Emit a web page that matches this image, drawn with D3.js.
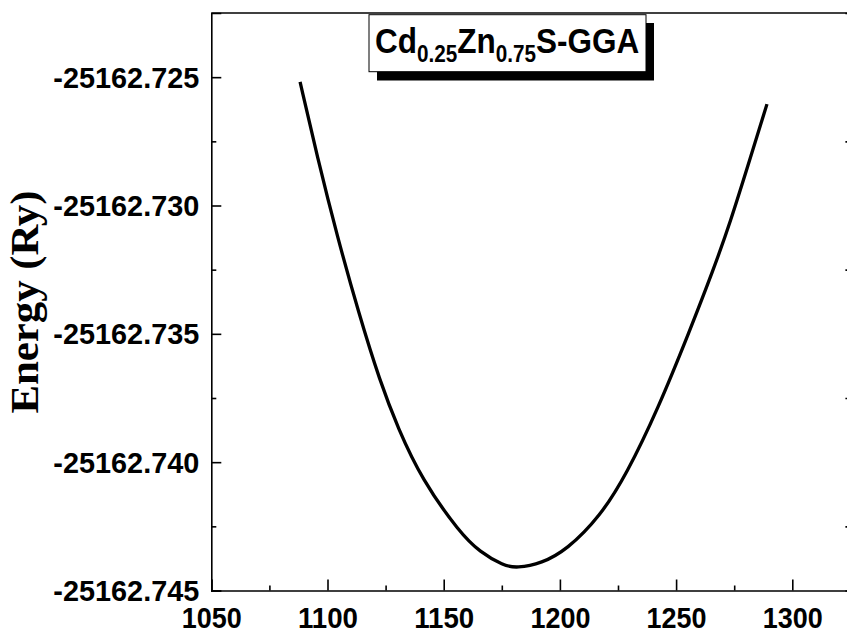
<!DOCTYPE html>
<html>
<head>
<meta charset="utf-8">
<script src="https://cdn.jsdelivr.net/npm/d3@7"></script>
<style>
  body { margin: 0; background: #fff; }
  svg { display: block; }
</style>
</head>
<body>
<div id="chart"></div>
<script>
// volume points
const volume = [1088.2, 1095.9, 1104.1, 1113.6, 1122.6, 1130.3, 1140.5, 1157.0, 1165.6,
  1175.7, 1181.4, 1192.2, 1202.9, 1217.3, 1228.7, 1242.0, 1256.0, 1266.0, 1273.2, 1281.8, 1289.1];
const energy = [-25162.72518, -25162.72822, -25162.73117, -25162.73425, -25162.73686,
  -25162.73867, -25162.74066, -25162.74276, -25162.74350, -25162.74403, -25162.74413,
  -25162.74394, -25162.74342, -25162.74212, -25162.74046, -25162.73797, -25162.73485,
  -25162.73251, -25162.73069, -25162.72819, -25162.72605];

const xTicks = [1050, 1100, 1150, 1200, 1250, 1300];
const xMinor = [1075, 1125, 1175, 1225, 1275];
const yTicks = [-25162.745, -25162.740, -25162.735, -25162.730, -25162.725];
const yMinor = [-25162.7425, -25162.7375, -25162.7325, -25162.7275];

const width = 847, height = 633;
const sans = '"Liberation Sans", Arial, sans-serif';
const serif = '"Liberation Serif", "Times New Roman", serif';

const svg = d3.select('#chart').append('svg')
  .attr('width', width)
  .attr('height', height);

const x = d3.scaleLinear().domain([1050, 1325]).range([211.3, 850.4]);
const y = d3.scaleLinear().domain([-25162.745, -25162.7225]).range([590.5, 13]);

// top frame line
svg.append('line')
  .attr('x1', x(1050)).attr('x2', x(1325))
  .attr('y1', y(-25162.7225)).attr('y2', y(-25162.7225))
  .attr('stroke', '#000').attr('stroke-width', 1.6);

// left axis
const left = svg.append('g').attr('transform', `translate(${x(1050)},0)`);
left.call(d3.axisLeft(y).tickValues(yTicks).tickSize(-10).tickPadding(12)
  .tickFormat(d => d.toFixed(3)));
left.append('g').call(d3.axisLeft(y).tickValues(yMinor).tickSize(-5).tickFormat(''))
  .select('.domain').remove();

// bottom axis
const bottom = svg.append('g').attr('transform', `translate(0,${y(-25162.745)})`);
bottom.call(d3.axisBottom(x).tickValues(xTicks).tickSize(-11).tickPadding(16)
  .tickFormat(d => String(d)));
bottom.append('g').call(d3.axisBottom(x).tickValues(xMinor).tickSize(-5).tickFormat(''))
  .select('.domain').remove();

// right axis, minor marks only
const right = svg.append('g').attr('transform', `translate(${x(1325)},0)`);
right.call(d3.axisRight(y).tickValues(yMinor).tickSize(-5).tickFormat(''));

svg.selectAll('.domain').attr('stroke', '#000').attr('stroke-width', 1.6);
svg.selectAll('.tick line').attr('stroke', '#000').attr('stroke-width', 1.6);

left.selectAll('.tick text')
  .attr('font-family', sans).attr('font-weight', 'bold').attr('font-size', 30)
  .attr('fill', '#000')
  .attr('dy', '0.33em')
  .attr('textLength', 146).attr('lengthAdjust', 'spacingAndGlyphs');

bottom.selectAll('.tick text')
  .attr('font-family', sans).attr('font-weight', 'bold').attr('font-size', 30)
  .attr('fill', '#000')
  .attr('dy', '0.71em')
  .attr('textLength', 60).attr('lengthAdjust', 'spacingAndGlyphs');

// the curve
const line = d3.line()
  .x((d, i) => x(volume[i]))
  .y(d => y(d))
  .curve(d3.curveBasis);

svg.append('path')
  .datum(energy)
  .attr('d', line)
  .attr('fill', 'none')
  .attr('stroke', '#000')
  .attr('stroke-width', 3.3);

// y label
svg.append('text')
  .attr('transform', 'translate(38,302) rotate(-90)')
  .attr('text-anchor', 'middle')
  .attr('font-family', serif).attr('font-weight', 'bold').attr('font-size', 40)
  .attr('textLength', 223).attr('lengthAdjust', 'spacingAndGlyphs')
  .text('Energy (Ry)');

// title box with drop shadow
svg.append('rect')
  .attr('x', 377).attr('y', 23).attr('width', 277).attr('height', 57.5)
  .attr('fill', '#000');
svg.append('rect')
  .attr('x', 369).attr('y', 14.7).attr('width', 277).attr('height', 57)
  .attr('fill', '#fff').attr('stroke', '#000').attr('stroke-width', 1);

const title = svg.append('text')
  .attr('transform', 'translate(375,53.3) scale(0.9,1)')
  .attr('font-family', sans).attr('font-weight', 'bold').attr('font-size', 35)
  .attr('fill', '#000');
title.append('tspan').text('Cd');
title.append('tspan').attr('font-size', 23).attr('dy', 8.4).text('0.25');
title.append('tspan').attr('dy', -8.4).text('Zn');
title.append('tspan').attr('font-size', 23).attr('dy', 8.4).text('0.75');
title.append('tspan').attr('dy', -8.4).text('S-GGA');
</script>
</body>
</html>
